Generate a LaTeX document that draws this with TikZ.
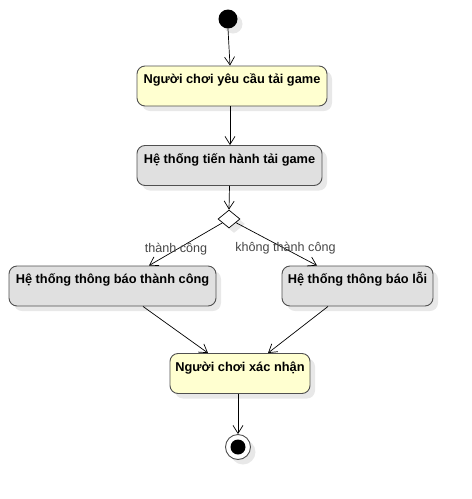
\documentclass[tikz,border=0pt]{standalone}
\usepackage{fontspec}
\setmainfont{Liberation Sans}
\usetikzlibrary{arrows.meta,shapes.geometric,shadows}
\definecolor{actyellow}{RGB}{255,255,208}
\definecolor{actgrey}{RGB}{224,224,224}
\definecolor{actborder}{RGB}{80,80,80}
\definecolor{labelgrey}{RGB}{70,70,70}
\tikzset{
  softshadow/.style={drop shadow={shadow xshift=5pt,shadow yshift=-5pt,fill=black!9,opacity=1}},
  actbox/.style={draw=actborder,line width=0.9pt,rounded corners=8pt,softshadow,
     inner xsep=4pt,inner ysep=4pt,text height=13.5pt,text depth=18.5pt,
     font=\fontsize{12.8}{14}\selectfont\bfseries},
  ybox/.style={actbox,fill=actyellow},
  gbox/.style={actbox,fill=actgrey},
  flow/.style={draw=black,line width=0.7pt,-{Straight Barb[length=8pt,width=10pt,line width=0.7pt]}},
  flowlabel/.style={text=labelgrey,font=\fontsize{12.6}{14}\selectfont,inner sep=0pt},
  decision/.style={diamond,draw=black,fill=white,line width=0.7pt,minimum width=22pt,minimum height=18pt,inner sep=0pt,softshadow}
}
\begin{document}
\begin{tikzpicture}[x=1pt,y=-1pt]
\useasboundingbox (0,0) rectangle (472,499);
\node[circle,fill=black,minimum size=19pt,inner sep=0pt,softshadow] (start) at (228,19) {};
\node[ybox,minimum width=190pt,minimum height=40pt] (a1) at (232,86) {Người chơi yêu cầu tải game};
\node[gbox,minimum width=185pt,minimum height=40pt] (a2) at (229.5,165.5) {Hệ thống tiến hành tải game};
\node[decision] (dec) at (229,219) {};
\node[gbox,minimum width=207pt,minimum height=40pt] (a3) at (112.5,286) {Hệ thống thông báo thành công};
\node[gbox,minimum width=151pt,minimum height=40pt] (a4) at (357.5,286) {Hệ thống thông báo lỗi};
\node[ybox,minimum width=140pt,minimum height=40pt] (a5) at (240,373.5) {Người chơi xác nhận};
\node[circle,draw=actborder,fill=white,line width=0.9pt,minimum size=25pt,inner sep=0pt,softshadow] (end) at (238,447) {};
\node[circle,fill=black,minimum size=15pt,inner sep=0pt] (endin) at (end) {};

\draw[flow] (start.south) -- ([xshift=-2pt]a1.north);
\draw[flow] ([xshift=-2pt]a1.south) -- ([xshift=0.5pt]a2.north);
\draw[flow] (a2.south) -- (dec.north);
\draw[flow] (dec) -- ([xshift=36.5pt]a3.north);
\draw[flow] (dec) -- ([xshift=-40.5pt]a4.north);
\draw[flow] ([xshift=30.5pt]a3.south) -- ([xshift=-32pt]a5.north);
\draw[flow] ([xshift=-29.5pt]a4.south) -- ([xshift=28pt]a5.north);
\draw[flow] ([xshift=-2pt]a5.south) -- (end.north);

\node[flowlabel] (l1) at (176,249) {thành công};
\node[flowlabel] (l2) at (285.5,248) {không thành công};
\end{tikzpicture}
\end{document}
